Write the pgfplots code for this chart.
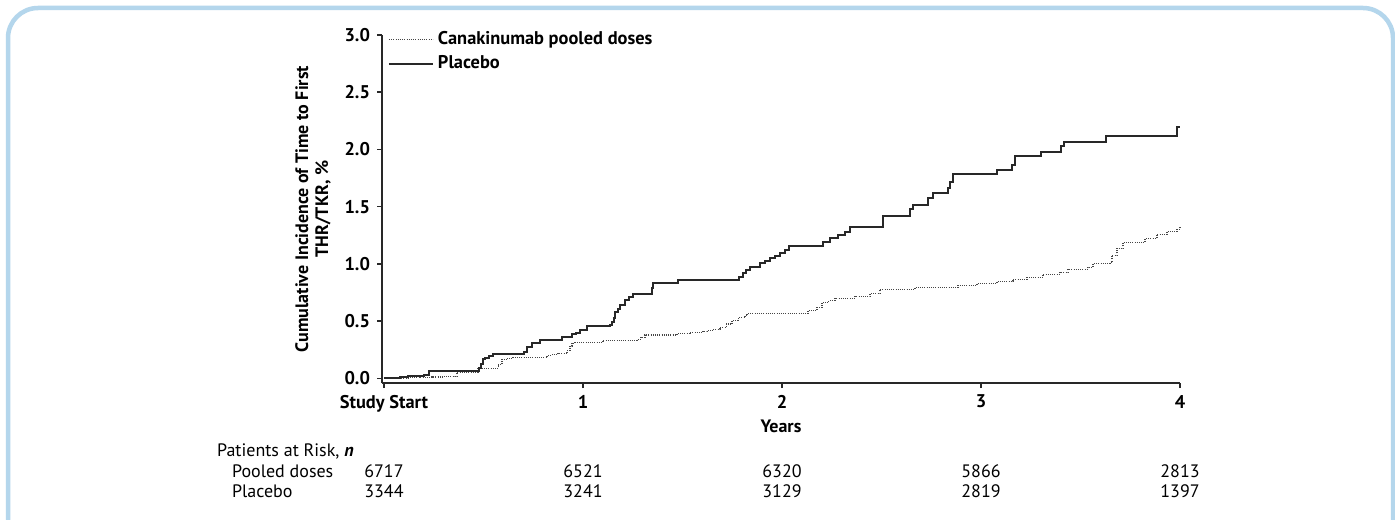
\documentclass[border=0pt]{standalone}
\usepackage{fontspec}
\setmainfont{PT Sans}
\usepackage{pgfplots}
\pgfplotsset{compat=1.18}
\definecolor{frameblue}{RGB}{180,214,236}
\definecolor{placebo}{RGB}{40,40,40}
\definecolor{pooled}{RGB}{70,70,70}
\begin{document}
\begin{tikzpicture}
% 1 px of the reference = 0.5pt, origin at the top left
\useasboundingbox (0,0) rectangle (697.5pt,-259.5pt);
\fill[white] (0,0) rectangle (697.5pt,-259.5pt);
\draw[frameblue, line width=2.25pt, rounded corners=15pt] (4pt,-4pt) rectangle (696.5pt,-320pt);

\begin{axis}[
  at={(191pt,-191.5pt)}, anchor=south west,
  scale only axis, width=399pt, height=174pt,
  xmin=-0.01, xmax=4, ymin=-0.04, ymax=3,
  axis x line*=bottom, axis y line*=left,
  axis line style={line width=0.75pt, color=placebo},
  tick style={line width=0.75pt, color=placebo},
  tick align=outside, major tick length=2.5pt,
  xtick={0,1,2,3,4}, xticklabels={Study Start,1,2,3,4},
  ytick={0,0.5,1,1.5,2,2.5,3},
  yticklabel style={/pgf/number format/.cd, fixed, fixed zerofill, precision=1, assume math mode=true},
  ticklabel style={font=\fontsize{9.2}{10}\selectfont\bfseries},
  xlabel={Years}, ylabel={Cumulative Incidence of Time to First\\THR/TKR, \%},
  xlabel style={font=\fontsize{9}{10}\selectfont\bfseries, yshift=3pt},
  ylabel style={font=\fontsize{9}{10}\selectfont\bfseries, align=center},
  legend cell align=left,
  legend style={draw=none, fill=none, at={(0.007,1.022)}, anchor=north west,
    font=\fontsize{9.2}{10}\selectfont\bfseries, inner sep=0pt, row sep=0pt},
  legend image code/.code={\draw[#1] (0pt,0pt) -- (22pt,0pt);},
  clip=false,
]
\addplot[const plot, pooled, line width=0.65pt, dash pattern=on 0.5pt off 0.6pt] coordinates {
(0,0)(0.06,0.003)(0.12,0.006)(0.18,0.009)(0.24,0.012)(0.30,0.015)(0.357,0.017)(0.367,0.05)
(0.472,0.087)
(0.575,0.12)(0.593,0.166)(0.62,0.175)(0.648,0.183)
(0.819,0.20)(0.845,0.21)(0.874,0.218)(0.920,0.245)(0.935,0.28)(0.945,0.306)(0.960,0.314)
(1.101,0.332)
(1.271,0.34)(1.290,0.36)(1.312,0.38)
(1.472,0.393)(1.54,0.40)(1.603,0.41)(1.623,0.419)(1.655,0.43)(1.688,0.445)(1.72,0.475)(1.749,0.507)(1.78,0.53)(1.814,0.55)(1.824,0.568)
(2.131,0.594)(2.176,0.62)(2.201,0.664)(2.235,0.68)(2.266,0.699)(2.367,0.716)(2.442,0.742)(2.492,0.777)
(2.668,0.795)
(2.884,0.812)(2.980,0.83)(3.080,0.847)(3.161,0.865)(3.231,0.882)(3.312,0.908)(3.397,0.926)(3.437,0.952)(3.538,0.969)(3.563,1.004)(3.648,1.013)(3.658,1.074)(3.683,1.135)(3.714,1.188)(3.824,1.223)(3.884,1.258)(3.935,1.284)(3.985,1.301)(4.0,1.328)
};
\addlegendentry{Canakinumab pooled doses}

\addplot[const plot, placebo, line width=1pt] coordinates {
(0,0)(0.04,0.006)(0.08,0.012)(0.12,0.018)(0.16,0.024)(0.20,0.03)(0.226,0.061)
(0.475,0.09)(0.487,0.13)(0.497,0.166)(0.51,0.18)(0.53,0.195)(0.548,0.210)
(0.705,0.235)(0.719,0.271)(0.744,0.306)(0.784,0.332)
(0.894,0.358)(0.945,0.384)(0.965,0.40)(0.985,0.419)(1.020,0.454)
(1.136,0.47)(1.146,0.489)(1.155,0.53)(1.161,0.576)(1.175,0.61)(1.186,0.638)(1.211,0.681)(1.23,0.71)(1.251,0.734)
(1.345,0.79)(1.352,0.830)
(1.477,0.856)
(1.785,0.89)(1.804,0.925)(1.82,0.95)(1.839,0.969)(1.889,1.004)(1.915,1.025)(1.940,1.048)(1.965,1.07)(1.990,1.092)(2.015,1.12)(2.035,1.153)
(2.206,1.188)(2.241,1.223)(2.281,1.249)(2.317,1.275)(2.342,1.319)
(2.508,1.415)
(2.643,1.476)(2.658,1.511)
(2.734,1.572)(2.759,1.616)
(2.835,1.66)(2.845,1.72)(2.859,1.782)
(3.080,1.825)
(3.156,1.860)(3.171,1.939)
(3.302,1.974)
(3.402,2.026)(3.417,2.061)
(3.628,2.122)
(3.985,2.192)(4.0,2.192)
};
\addlegendentry{Placebo}

% patients at risk, under each year tick
\node[font=\fontsize{9}{10}\selectfont] at (axis cs:0,-0.812) {6717};
\node[font=\fontsize{9}{10}\selectfont] at (axis cs:1,-0.812) {6521};
\node[font=\fontsize{9}{10}\selectfont] at (axis cs:2,-0.812) {6320};
\node[font=\fontsize{9}{10}\selectfont] at (axis cs:3,-0.812) {5866};
\node[font=\fontsize{9}{10}\selectfont] at (axis cs:4,-0.812) {2813};
\node[font=\fontsize{9}{10}\selectfont] at (axis cs:0,-0.987) {3344};
\node[font=\fontsize{9}{10}\selectfont] at (axis cs:1,-0.987) {3241};
\node[font=\fontsize{9}{10}\selectfont] at (axis cs:2,-0.987) {3129};
\node[font=\fontsize{9}{10}\selectfont] at (axis cs:3,-0.987) {2819};
\node[font=\fontsize{9}{10}\selectfont] at (axis cs:4,-0.987) {1397};
\end{axis}

\node[anchor=west, font=\fontsize{9}{10}\selectfont] at (105pt,-225.5pt) {Patients at Risk, \textbf{\textit{n}}};
\node[anchor=west, font=\fontsize{9}{10}\selectfont] at (112.5pt,-235.5pt) {Pooled doses};
\node[anchor=west, font=\fontsize{9}{10}\selectfont] at (112.5pt,-245.5pt) {Placebo};
\end{tikzpicture}
\end{document}
